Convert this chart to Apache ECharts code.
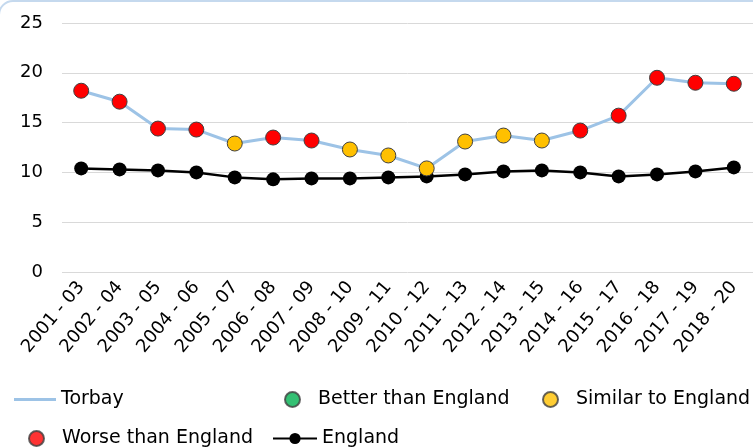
<!DOCTYPE html>
<html>
<head>
<meta charset="utf-8">
<script src="https://cdn.jsdelivr.net/npm/echarts@6/dist/echarts.min.js"></script>
<style>
  html, body { margin: 0; padding: 0; background: #fff; }
  #chart { width: 753px; height: 448px; }
</style>
</head>
<body>
<div id="chart"></div>
<script>
// periods on the x axis
var periods = ['2001 - 03', '2002 - 04', '2003 - 05', '2004 - 06', '2005 - 07', '2006 - 08',
    '2007 - 09', '2008 - 10', '2009 - 11', '2010 - 12', '2011 - 13', '2012 - 14',
    '2013 - 15', '2014 - 16', '2015 - 17', '2016 - 18', '2017 - 19', '2018 - 20'];
var torbay = [18.2, 17.1, 14.4, 14.3, 12.9, 13.5, 13.2, 12.3, 11.7, 10.4, 13.1, 13.7,
    13.2, 14.2, 15.7, 19.5, 19.0, 18.9];
var england = [10.4, 10.3, 10.2, 10.0, 9.5, 9.3, 9.4, 9.4, 9.5, 9.6, 9.8, 10.1,
    10.2, 10.0, 9.6, 9.8, 10.1, 10.5];
// compared with England: 'worse' | 'similar' | 'better'
var compare = ['worse', 'worse', 'worse', 'worse', 'similar', 'worse', 'worse', 'similar',
    'similar', 'similar', 'similar', 'similar', 'similar', 'worse', 'worse', 'worse', 'worse', 'worse'];
var yTicks = [0, 25, 5];

var colours = { better: '#00b050', similar: '#ffc000', worse: '#ff0000' };
var lineBlue = '#9dc3e6';
var font = 'DejaVu Sans, sans-serif';

var chart = echarts.init(document.getElementById('chart'));

function legendAt(name, left, top, extra) {
    var l = {
        left: left, top: top,
        data: [name],
        textStyle: { fontFamily: font, fontSize: 19, color: '#000' },
        selectedMode: false
    };
    for (var k in extra) l[k] = extra[k];
    return l;
}

// circle markers in the legend sit further from their text
var dot = {
    icon: 'circle', itemWidth: 15, itemHeight: 15,
    textStyle: { fontFamily: font, fontSize: 19, color: '#000', padding: [0, 0, 0, 13] }
};

var option = {
    animation: false,
    graphic: [{
        type: 'rect',
        shape: { x: -1, y: 1, width: 900, height: 600, r: 14 },
        style: { fill: 'none', stroke: '#c5d9ee', lineWidth: 2 },
        silent: true
    }],
    grid: { left: 62, right: -3, top: 23, bottom: 176 },
    legend: [
        legendAt('Torbay', 9, 385, { itemWidth: 42, itemHeight: 3, icon: 'rect',
            data: [{ name: 'Torbay', itemStyle: { color: lineBlue, borderWidth: 0 } }] }),
        legendAt('Better than England', 279, 385, dot),
        legendAt('Similar to England', 537, 385, dot),
        legendAt('Worse than England', 23, 424, dot),
        legendAt('England', 267, 424, { itemWidth: 44, itemHeight: 14 })
    ],
    xAxis: {
        type: 'category',
        data: periods,
        boundaryGap: true,
        axisLine: { show: false },
        axisTick: { show: false },
        axisLabel: {
            rotate: 50, fontFamily: font, fontSize: 18, color: '#000',
            margin: 12, interval: 0
        }
    },
    yAxis: {
        type: 'value',
        min: yTicks[0], max: yTicks[1], interval: yTicks[2],
        axisLine: { show: false },
        axisTick: { show: false },
        axisLabel: { fontFamily: font, fontSize: 18, color: '#000', margin: 19 },
        splitLine: { lineStyle: { color: '#d9d9d9', width: 1 } }
    },
    series: [
        {
            name: 'England',
            type: 'line',
            data: england,
            symbol: 'circle',
            symbolSize: 14,
            z: 2,
            lineStyle: { color: '#000', width: 2.5 },
            itemStyle: { color: '#000' }
        },
        {
            name: 'Torbay',
            type: 'line',
            data: torbay,
            symbol: 'circle',
            symbolSize: 15,
            z: 3,
            lineStyle: { color: lineBlue, width: 3 },
            itemStyle: {
                color: function (p) { return colours[compare[p.dataIndex]]; },
                borderColor: '#404040',
                borderWidth: 1
            }
        },
        { name: 'Better than England', type: 'scatter', data: [],
          itemStyle: { color: colours.better, borderColor: '#404040', borderWidth: 1 } },
        { name: 'Similar to England', type: 'scatter', data: [],
          itemStyle: { color: colours.similar, borderColor: '#404040', borderWidth: 1 } },
        { name: 'Worse than England', type: 'scatter', data: [],
          itemStyle: { color: colours.worse, borderColor: '#404040', borderWidth: 1 } }
    ]
};

chart.setOption(option);
</script>
</body>
</html>
